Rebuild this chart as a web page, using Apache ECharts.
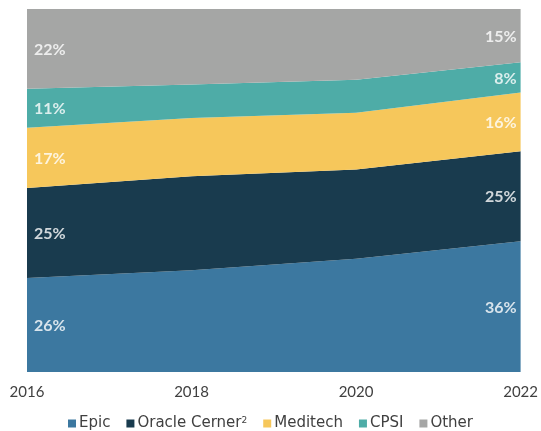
<!DOCTYPE html>
<html>
<head>
<meta charset="utf-8">
<script src="https://cdn.jsdelivr.net/npm/echarts@6/dist/echarts.min.js"></script>
<style>html,body{margin:0;padding:0;background:#fff;}#c{width:541px;height:431px;}</style>
</head>
<body>
<div id="c"></div>
<script>
const years = ['2016', '2018', '2020', '2022'];
const epic = [25.9, 28.0, 31.2, 36.0];
const cerner = [24.8, 25.9, 24.6, 24.8];
const meditech = [16.6, 16.1, 15.6, 16.2];
const cpsi = [10.7, 9.2, 9.1, 8.3];
const other = [22.0, 20.8, 19.5, 14.7];
const names = ['Epic', 'Oracle Cerner', 'Meditech', 'CPSI', 'Other'];
const colors = ['#3c78a0', '#193b4e', '#f6c75b', '#4eaca7', '#a5a6a5'];

const seriesVals = [epic, cerner, meditech, cpsi, other];
const chart = echarts.init(document.getElementById('c'));
const series = [];
seriesVals.forEach((vals, i) => {
  series.push({
    name: names[i], type: 'line', stack: 'total', data: vals,
    symbol: 'none', lineStyle: { width: 0 },
    areaStyle: { color: colors[i], opacity: 1 }, itemStyle: { color: colors[i] },
    emphasis: { disabled: true }, z: 2
  });
});
// label positions: middle of each band, computed from the data via the axis
const lblData = [];
seriesVals.forEach((vals, i) => {
  [0, 3].forEach(j => {
    let below = 0;
    for (let k = 0; k < i; k++) below += seriesVals[k][j];
    lblData.push({
      value: [j, below + vals[j] / 2, vals[j]],
      label: j === 0 ? { position: 'right', distance: 7 } : { position: 'left', distance: 4 }
    });
  });
});
series.push({
  name: 'labels', type: 'scatter', data: lblData, symbolSize: 0, silent: true, z: 5,
  label: {
    show: true, color: '#ffffff', fontFamily: 'Lato', fontWeight: 'bold', fontSize: 16,
    offset: [0, 1],
    formatter: p => Math.round(p.value[2]) + '%'
  }
});

chart.setOption({
  animation: false,
  grid: { left: 27, right: 19, top: 9, bottom: 59 },
  xAxis: {
    type: 'category', data: years, boundaryGap: false,
    axisLine: { show: false }, axisTick: { show: false },
    axisLabel: { color: '#404040', fontFamily: 'Lato', fontSize: 15, margin: 13 }
  },
  yAxis: { type: 'value', min: 0, max: 100, show: false, splitLine: { show: false } },
  legend: {
    data: names, bottom: -5, left: 'center', icon: 'rect', itemWidth: 8, itemHeight: 8, itemGap: 16,
    textStyle: {
      color: '#404040', fontFamily: 'DejaVu Sans', fontSize: 15, padding: [0, 0, 0, -2],
      rich: { sup: { fontSize: 9, verticalAlign: 'top', padding: [0, 0, 6, 0], color: '#404040', fontFamily: 'DejaVu Sans' } }
    },
    formatter: n => n === 'Oracle Cerner' ? 'Oracle Cerner{sup|2}' : n
  },
  series: series
});
</script>
</body>
</html>
